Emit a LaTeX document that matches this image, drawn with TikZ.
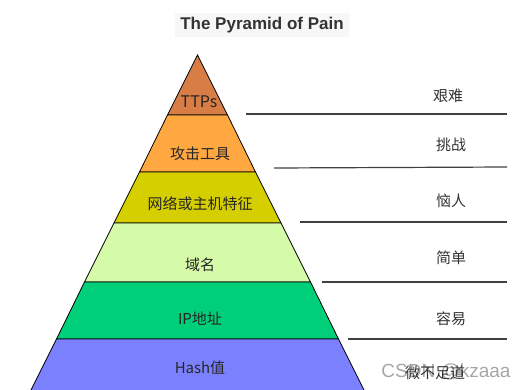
\documentclass[tikz,border=0pt]{standalone}
\usepackage{fontspec}
\setmainfont{Noto Sans CJK SC}
\newfontfamily\titlefont{Liberation Sans}
\newfontfamily\cjk{Noto Sans CJK SC}
\definecolor{cTTP}{HTML}{D77D45}
\definecolor{cTool}{HTML}{FFA842}
\definecolor{cNet}{HTML}{D6CF00}
\definecolor{cDom}{HTML}{D6FBA8}
\definecolor{cIP}{HTML}{00CF7A}
\definecolor{cHash}{HTML}{7B80FF}
\definecolor{ttext}{HTML}{333333}
\begin{document}
\begin{tikzpicture}[x=1pt,y=-1pt,
  band/.style={draw=black,line width=0.8pt,line join=miter},
  lvl/.style={font=\cjk\fontsize{15}{15}\selectfont,text=black!85,inner sep=0pt},
  side/.style={font=\cjk\fontsize{15}{15}\selectfont,text=black!80,inner sep=0pt},
  sep/.style={draw=black!75,line width=1.2pt}]
\useasboundingbox (0,0) rectangle (523,389);
% title
\fill[black!3] (175,13) rectangle (349,37);
\node[font=\titlefont\bfseries\fontsize{17}{17}\selectfont,text=ttext,inner sep=0pt] (title) at (262,25) {The Pyramid of Pain};
% pyramid bands
\coordinate (apex) at (197.5,55);
\coordinate (l1) at (167.5,115); \coordinate (r1) at (227.5,115);
\coordinate (l2) at (139.5,172); \coordinate (r2) at (255.5,172);
\coordinate (l3) at (114,223); \coordinate (r3) at (281,223);
\coordinate (l4) at (84.5,282); \coordinate (r4) at (310.5,282);
\coordinate (l5) at (56.5,339); \coordinate (r5) at (338.5,339);
\coordinate (l6) at (30,392); \coordinate (r6) at (365,392);
\filldraw[band,fill=cTTP] (apex) -- (r1) -- (l1) -- cycle;
\filldraw[band,fill=cTool] (l1) -- (r1) -- (r2) -- (l2) -- cycle;
\filldraw[band,fill=cNet] (l2) -- (r2) -- (r3) -- (l3) -- cycle;
\filldraw[band,fill=cDom] (l3) -- (r3) -- (r4) -- (l4) -- cycle;
\filldraw[band,fill=cIP] (l4) -- (r4) -- (r5) -- (l5) -- cycle;
\filldraw[band,fill=cHash] (l5) -- (r5) -- (r6) -- (l6) -- cycle;
% level labels
\node[lvl,font=\cjk\fontsize{16}{16}\selectfont] (ttps) at (199,102) {TTPs};
\node[lvl] (tools) at (200,154) {攻击工具};
\node[lvl] (net) at (200,204) {网络或主机特征};
\node[lvl] (dom) at (200,265) {域名};
\node[lvl] (ip) at (200,319) {IP地址};
\node[lvl] (hash) at (200,368) {Hash值};
% separator lines
\coordinate (a1) at (246,114); \coordinate (b1) at (507,114);
\coordinate (a2) at (274,168); \coordinate (b2) at (507,167);
\coordinate (a3) at (300,222); \coordinate (b3) at (507,222);
\coordinate (a4) at (322,282); \coordinate (b4) at (507,282);
\coordinate (a5) at (348,339); \coordinate (b5) at (507,339);
\draw[sep] (a1) -- (b1);
\draw[sep] (a2) -- (b2);
\draw[sep] (a3) -- (b3);
\draw[sep] (a4) -- (b4);
\draw[sep] (a5) -- (b5);
% watermark
\node[font=\titlefont\fontsize{19}{19}\selectfont,text=black!35,inner sep=0pt] (wm) at (446,372) {CSDN @kzaaa};
% side labels
\node[side] (s1) at (448,96) {艰难};
\node[side] (s2) at (451,145) {挑战};
\node[side] (s3) at (451,201) {恼人};
\node[side] (s4) at (451,258) {简单};
\node[side] (s5) at (451,319) {容易};
\node[side] (s6) at (435,373) {微不足道};
\end{tikzpicture}
\end{document}
